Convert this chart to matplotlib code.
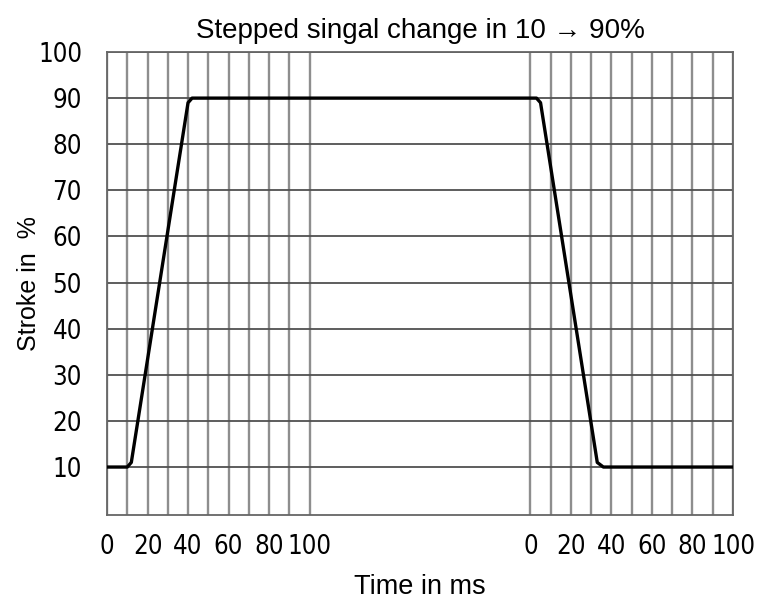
import matplotlib.pyplot as plt
import numpy as np

# left segment (rise 10 -> 90 %), time in ms
t_rise = [0, 10, 12, 40, 42, 100]
s_rise = [10, 10, 11, 89, 90, 90]
# right segment (fall 90 -> 10 %), time in ms
t_fall = [0, 3, 5, 33, 36, 100]
s_fall = [90, 90, 89, 11, 10, 10]

y_ticks = [10, 20, 30, 40, 50, 60, 70, 80, 90, 100]
x_labels = [0, 20, 40, 60, 80, 100]

gap = 209  # where the second time axis starts on the shared axis

fig = plt.figure(figsize=(7.66, 6.02), dpi=100)
ax = fig.add_axes([107 / 766, 1 - 515 / 602, (733 - 107) / 766, (515 - 52) / 602])

tick_font = dict(family=['DejaVu Sans'], stretch='condensed', fontsize=18.5)
text_font = ['Liberation Sans', 'DejaVu Sans']

# grid
for v in range(0, 101, 10):
    ax.axvline(v, color='#8e8e8e', lw=1.7, zorder=1)
    ax.axvline(v + gap, color='#8e8e8e', lw=1.7, zorder=1)
for h in y_ticks:
    ax.axhline(h, color='#505050', lw=1.3, zorder=1)

x = list(t_rise) + [t + gap for t in t_fall]
y = list(s_rise) + list(s_fall)
ax.plot(x, y, color='black', lw=2.4, zorder=3)

ax.set_xlim(0, 100 + gap)
ax.set_ylim(-0.4, 100)

ax.set_yticks(y_ticks)
ax.set_yticklabels([str(v) for v in y_ticks], **tick_font)
xt = x_labels + [v + gap for v in x_labels]
ax.set_xticks(xt)
ax.set_xticklabels([str(v) for v in x_labels] * 2, **tick_font)
ax.tick_params(length=0)
ax.tick_params(axis='y', pad=18)
ax.tick_params(axis='x', pad=14)

for s in ax.spines.values():
    s.set_color('#666666')
    s.set_linewidth(1.3)

ax.set_title('Stepped singal change in 10 \u2192 90%', family=text_font, fontsize=20, pad=10)
ax.set_xlabel('Time in ms', family=text_font, fontsize=19.5, labelpad=10)
ax.set_ylabel('Stroke in  %', family=text_font, fontsize=18)
ax.yaxis.set_label_coords(-0.105, 0.5)

fig.savefig('out.png', dpi=100)
